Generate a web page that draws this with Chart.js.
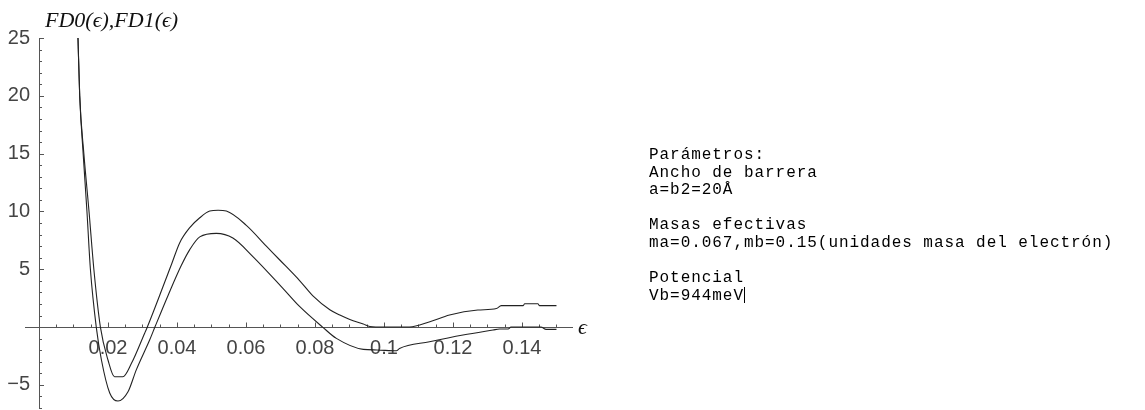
<!DOCTYPE html>
<html>
<head>
<meta charset="utf-8">
<title>FD0, FD1</title>
<script src="https://cdn.jsdelivr.net/npm/chart.js@4.4.0/dist/chart.umd.min.js"></script>
<style>
  html, body { margin: 0; padding: 0; background: #fff; overflow: hidden; }
  #wrap { position: relative; width: 1145px; height: 410px; overflow: hidden; }
  #fdChart { position: absolute; left: 0; top: 0; }
  #params {
    position: absolute; left: 649px; top: 147px; margin: 0;
    font: 16px/17.5px 'Liberation Mono', monospace; letter-spacing: 0.95px; color: #000;
  }
  .caret { display: inline-block; width: 0; height: 16px; border-left: 1px solid #000; vertical-align: -3px; }
</style>
</head>
<body>
<div id="wrap">
  <canvas id="fdChart" width="1145" height="430"></canvas>
  <pre id="params">Parámetros:
Ancho de barrera
a=b2=20Å

Masas efectivas
ma=0.067,mb=0.15(unidades masa del electrón)

Potencial
Vb=944meV<span class="caret"></span></pre>
</div>
<script>
// FD0 (upper curve)
const fd0X = [0.0113, 0.0118, 0.0130, 0.0145, 0.0159, 0.0178, 0.0200, 0.0219, 0.0231, 0.0243, 0.0268, 0.0306, 0.0314,
  0.0385, 0.0408, 0.0437, 0.0466, 0.0495, 0.0519, 0.0543, 0.0601, 0.0659, 0.0698, 0.0756, 0.0794, 0.0843, 0.0872,
  0.0901, 0.0940, 0.0959, 0.1000, 0.1074, 0.1133, 0.1190, 0.1272, 0.1326, 0.1340, 0.1403, 0.1408, 0.1446, 0.1451, 0.1500];
const fd0Y = [25, 20, 15, 10, 5, 0, -2.85, -4.3, -4.3, -4.3, -3.14, -0.55, 0,
  5.5, 7.3, 8.6, 9.45, 10.03, 10.1, 10.03, 8.8, 7.0, 5.8, 4.0, 2.7, 1.5, 1.04,
  0.66, 0.26, 0.05, 0, 0, 0.46, 1.04, 1.47, 1.6, 1.85, 1.85, 2.02, 2.02, 1.85, 1.85];

// FD1 (lower curve)
const fd1X = [0.0113, 0.0118, 0.0128, 0.0139, 0.0149, 0.0166, 0.0181, 0.0205, 0.0229, 0.0258, 0.0282, 0.0321, 0.0336,
  0.0375, 0.0412, 0.0437, 0.0466, 0.0514, 0.0562, 0.0620, 0.0707, 0.0756, 0.0822, 0.0862, 0.0940, 0.0979,
  0.1036, 0.1045, 0.1132, 0.1229, 0.1316, 0.1335, 0.1360, 0.1368, 0.1455, 0.1470, 0.1500];
const fd1Y = [25, 20, 15, 10, 5, 0, -2.85, -5.7, -6.4, -5.6, -3.7, -1.1, 0,
  2.8, 5.3, 6.7, 7.8, 8.1, 7.7, 6.1, 3.35, 1.76, 0, -0.98, -1.93, -1.98,
  -2.05, -1.85, -1.27, -0.69, -0.26, -0.17, -0.17, 0, 0, -0.2, -0.2];

const xTicks = [0.02, 0.04, 0.06, 0.08, 0.1, 0.12, 0.14];
const xTickLabels = ['0.02', '0.04', '0.06', '0.08', '0.1', '0.12', '0.14'];
const yTicks = [-5, 5, 10, 15, 20, 25];
const yTickLabels = ['\u22125', '5', '10', '15', '20', '25'];

const titleText = 'FD0(\u03F5),FD1(\u03F5)';
const xAxisText = '\u03F5';

const axisColor = '#555';
const labelColor = '#444';
const curveColor = '#222';
const tickFont = { family: "'Liberation Sans', Arial, sans-serif", size: 20 };

// minor / major tick marks pointing inward, plus the short x-axis stub left of the y axis
const axisDecor = {
  id: 'axisDecor',
  beforeDatasetsDraw(chart) {
    const { ctx, chartArea, scales: { x, y } } = chart;
    const x0 = Math.round(x.getPixelForValue(0));
    const y0 = Math.round(y.getPixelForValue(0)) + 0.5;
    ctx.save();
    ctx.strokeStyle = axisColor;
    ctx.lineWidth = 1;
    ctx.beginPath();
    ctx.moveTo(chartArea.left - 14, y0);
    ctx.lineTo(chartArea.left, y0);
    for (let i = 1; i * 0.005 <= 0.1501; i++) {
      const px = Math.round(x.getPixelForValue(i * 0.005)) + 0.5;
      const len = i % 4 === 0 ? 5 : 3;
      ctx.moveTo(px, y0);
      ctx.lineTo(px, y0 - len);
    }
    for (let v = -7; v <= 25; v++) {
      if (v === 0) continue;
      const py = Math.round(y.getPixelForValue(v)) + 0.5;
      const len = v % 5 === 0 ? 5 : 3;
      ctx.moveTo(x0, py);
      ctx.lineTo(x0 + len, py);
    }
    ctx.stroke();
    ctx.restore();
  },
  afterDraw(chart) {
    const { ctx, chartArea, scales: { y } } = chart;
    ctx.save();
    ctx.fillStyle = '#111';
    ctx.font = "italic 22px 'Liberation Serif', 'DejaVu Serif', serif";
    ctx.textAlign = 'left';
    ctx.textBaseline = 'alphabetic';
    ctx.fillText(titleText, chartArea.left + 6, 27);
    ctx.textBaseline = 'middle';
    ctx.fillText(xAxisText, chartArea.right + 6, y.getPixelForValue(0) + 1);
    ctx.restore();
  }
};

const toPoints = (xs, ys) => xs.map((v, i) => ({ x: v, y: ys[i] }));

new Chart(document.getElementById('fdChart'), {
  type: 'scatter',
  data: {
    datasets: [
      { label: 'FD0', data: toPoints(fd0X, fd0Y) },
      { label: 'FD1', data: toPoints(fd1X, fd1Y) }
    ]
  },
  options: {
    responsive: false,
    animation: false,
    devicePixelRatio: 1,
    layout: { padding: { left: 0, top: 38, right: 573, bottom: 22 } },
    elements: {
      point: { radius: 0, hoverRadius: 0 },
      line: { borderColor: curveColor, borderWidth: 1.1, cubicInterpolationMode: 'monotone' }
    },
    datasets: { scatter: { showLine: true, borderColor: curveColor, backgroundColor: curveColor } },
    scales: {
      x: {
        type: 'linear', min: 0, max: 0.1545,
        position: { y: 0 },
        afterBuildTicks: s => { s.ticks = xTicks.map(v => ({ value: v })); },
        ticks: {
          callback: v => xTickLabels[xTicks.indexOf(v)],
          font: tickFont, color: labelColor, padding: 9, maxRotation: 0, autoSkip: false
        },
        grid: { display: true, drawOnChartArea: false, drawTicks: false },
        border: { display: true, color: axisColor, width: 1 }
      },
      y: {
        type: 'linear', min: -7, max: 25,
        position: 'left',
        afterFit: s => { s.width = 39; },
        afterBuildTicks: s => { s.ticks = yTicks.map(v => ({ value: v })); },
        ticks: {
          callback: v => yTickLabels[yTicks.indexOf(v)],
          font: tickFont, color: labelColor, padding: 9, autoSkip: false
        },
        grid: { display: true, drawOnChartArea: false, drawTicks: false },
        border: { display: true, color: axisColor, width: 1 }
      }
    },
    plugins: {
      legend: { display: false },
      tooltip: { enabled: false },
      title: { display: false }
    }
  },
  plugins: [axisDecor]
});
</script>
</body>
</html>
